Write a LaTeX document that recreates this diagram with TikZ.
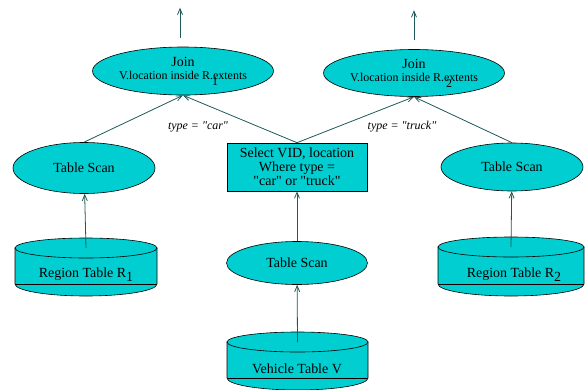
\documentclass[tikz,border=0pt]{standalone}
\usepackage{fontspec}
\setmainfont{Liberation Serif}
\usetikzlibrary{arrows.meta,shapes.geometric}
\definecolor{fillCyan}{HTML}{00CED1}
\definecolor{lineTeal}{HTML}{1E5858}

% stored table: name of top point, centre x, top y, half width, bottom y
\newcommand{\tableCylinder}[5]{%
  \filldraw[fill=fillCyan,line width=0.6bp]
    (#2-#4,#3) -- (#2-#4,#5) arc[start angle=180,end angle=360,x radius=#4,y radius=12]
    -- (#2+#4,#3) -- cycle;
  \draw[line width=0.6bp] (#2-#4,#5) -- (#2+#4,#5);
  \filldraw[fill=fillCyan,line width=0.6bp] (#2,#3) ellipse[x radius=#4,y radius=10];
  \coordinate (#1) at (#2,#3);
}
\newcommand{\qt}{\textquotedbl}

\tikzset{
  opEllipse/.style={ellipse,draw,fill=fillCyan,line width=0.6bp,inner sep=0pt,
    align=center,font=\fontsize{14}{15}\selectfont},
  selectBox/.style={rectangle,draw,fill=fillCyan,line width=0.6bp,inner sep=0pt,
    minimum width=140bp,minimum height=48bp,align=center,font=\fontsize{14}{14}\selectfont},
  tableText/.style={font=\fontsize{14}{15}\selectfont},
  typeLabel/.style={font=\fontsize{12}{13}\selectfont\itshape},
  flowArrow/.style={draw=lineTeal,line width=0.8bp,-{Straight Barb[length=6bp,width=5bp]}}
}

\begin{document}
\begin{tikzpicture}[x=1bp,y=1bp]
\useasboundingbox (0,0) rectangle (585,389);

% base tables
\tableCylinder{regionLeft}{86}{141}{71}{105}
\tableCylinder{vehicleTbl}{297.5}{47}{70.5}{11}
\tableCylinder{regionRight}{511}{142}{73}{105}
\node[tableText] (regionLeftTxt) at (86,114) {Region Table R\raisebox{-4bp}{1}};
\node[tableText] (vehicleTxt) at (297,20) {Vehicle Table V};
\node[tableText] (regionRightTxt) at (514,114) {Region Table R\raisebox{-4bp}{2}};

% operators
\node[opEllipse,minimum width=142bp,minimum height=51bp] (scanLeft) at (84,221) {Table Scan};
\node[opEllipse,minimum width=141bp,minimum height=43bp] (scanMid) at (297,126) {Table Scan};
\node[opEllipse,minimum width=142bp,minimum height=48bp] (scanRight) at (512,222) {Table Scan};
\node[selectBox] (selectOp) at (297,222) {Select VID, location\\Where type =\\\qt car\qt{} or \qt truck\qt};
\node[opEllipse,minimum width=141bp,minimum height=48bp] (joinLeft) at (183,318)
  {Join\\[-2bp]{\fontsize{12}{13}\selectfont V.location inside R\rlap{\hspace{2bp}\raisebox{-6bp}{1}}.extents}};
\node[opEllipse,minimum width=141bp,minimum height=47bp] (joinRight) at (414,316)
  {Join\\[-2bp]{\fontsize{12}{13}\selectfont V.location inside R.\rlap{\hspace{2bp}\raisebox{-6bp}{2}}extents}};

\node[typeLabel] (carLabel) at (198,262) {type = \qt car\qt};
\node[typeLabel] (truckLabel) at (402,262) {type = \qt truck\qt};

% data flow
\draw[flowArrow] (regionLeft) -- (scanLeft);
\draw[flowArrow] (vehicleTbl) -- (scanMid);
\draw[flowArrow] (regionRight) -- (scanRight);
\draw[flowArrow] (scanMid) -- (selectOp);
\draw[flowArrow] (scanLeft.north) -- (joinLeft.south);
\draw[flowArrow] (selectOp.north) -- (joinLeft.south);
\draw[flowArrow] (selectOp.north) -- (joinRight.south);
\draw[flowArrow] (scanRight.north) -- (joinRight.south);
\draw[flowArrow] ([xshift=-3bp,yshift=9bp]joinLeft.north) -- ++(0,30);
\draw[flowArrow] ([yshift=9bp]joinRight.north) -- ++(0,30);
\end{tikzpicture}
\end{document}
